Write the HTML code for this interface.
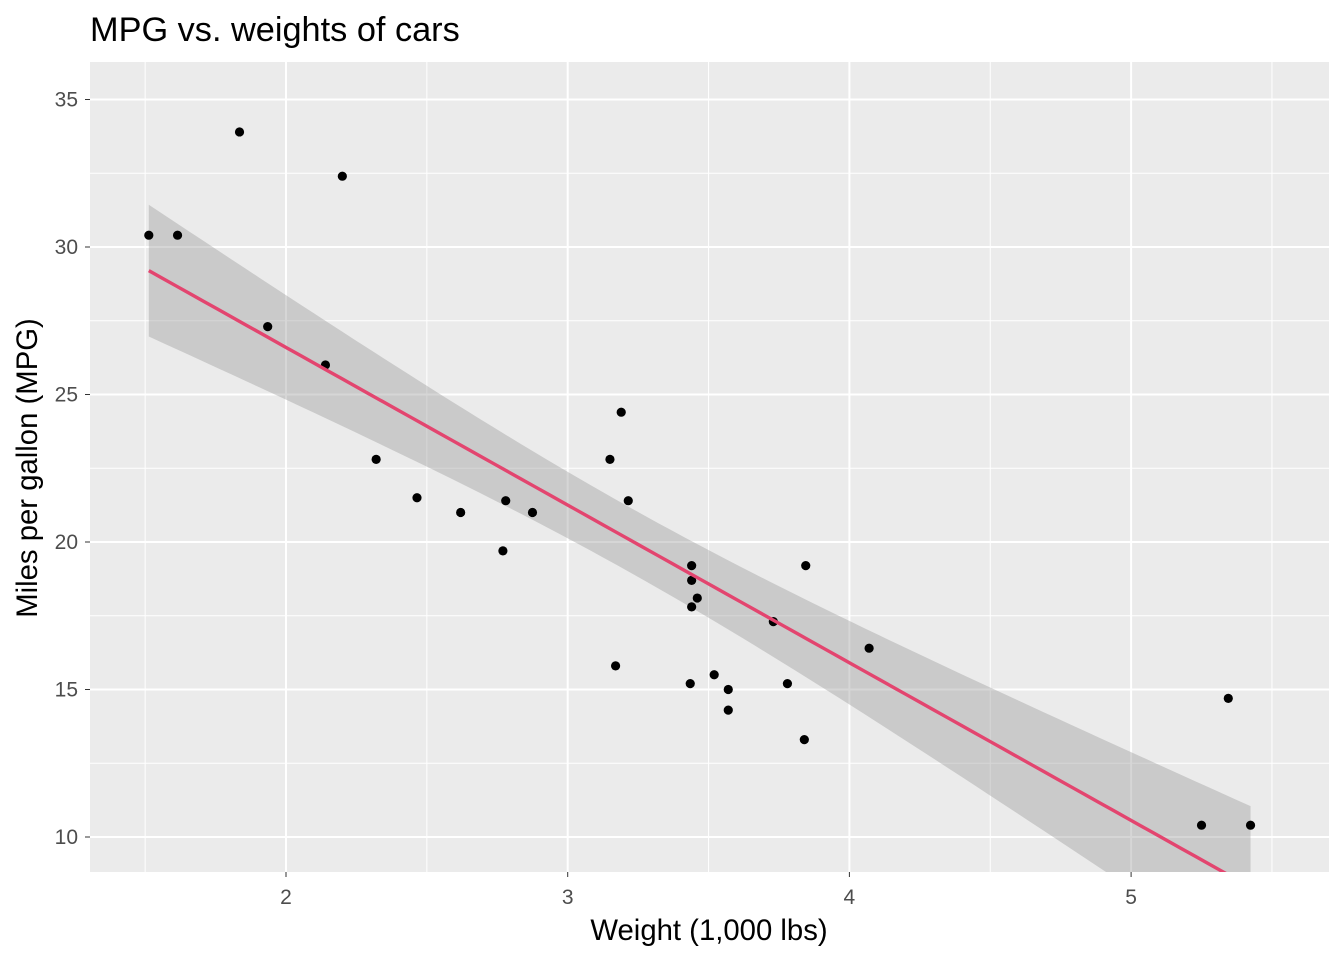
<!DOCTYPE html>
<html><head><meta charset="utf-8"><style>body{margin:0;background:#fff}svg{display:block;font-family:"Liberation Sans",Arial,sans-serif}</style></head>
<body>
<svg id="chart" width="1344" height="960">
<defs><clipPath id="pc"><rect x="90" y="62" width="1239" height="810"/></clipPath></defs>
<text x="90" y="41" font-size="34.3" fill="#000">MPG vs. weights of cars</text>
<rect x="90" y="62" width="1239" height="810" fill="#ebebeb"/>
<g id="grid"></g><g id="band" clip-path="url(#pc)"></g><g id="pts"></g><g id="line" clip-path="url(#pc)"></g><g id="axes"></g>
<text x="709" y="940" font-size="29.3" text-anchor="middle">Weight (1,000 lbs)</text>
<text transform="translate(37,468) rotate(-90)" font-size="29.3" text-anchor="middle">Miles per gallon (MPG)</text>
</svg>
<script>
const wt=[2.620,2.875,2.320,3.215,3.440,3.460,3.570,3.190,3.150,3.440,3.440,4.070,3.730,3.780,5.250,5.424,5.345,2.200,1.615,1.835,2.465,3.520,3.435,3.840,3.845,1.935,2.140,1.513,3.170,2.770,3.570,2.780];
const mpg=[21.0,21.0,22.8,21.4,18.7,18.1,14.3,24.4,22.8,19.2,17.8,16.4,17.3,15.2,10.4,10.4,14.7,32.4,30.4,33.9,21.5,15.5,15.2,13.3,19.2,27.3,26.0,30.4,15.8,19.7,15.0,21.4];
const xTicks=[2,3,4,5];
const yTicks=[10,15,20,25,30,35];
const NS='http://www.w3.org/2000/svg';
const X=v=>286+(v-2)*281.7, Y=v=>837-(v-10)*29.5;
function mk(p,t,a){const e=document.createElementNS(NS,t);for(const k in a)e.setAttribute(k,a[k]);document.getElementById(p).appendChild(e);return e;}
for(let v=1.5;v<=5.5;v+=0.5){const l=mk('grid','line',{x1:X(v),x2:X(v),y1:62,y2:872,stroke:'#fff','stroke-width':xTicks.includes(v)?2:1});

}
for(let v=10;v<=35;v+=2.5){const l=mk('grid','line',{y1:Y(v),y2:Y(v),x1:90,x2:1329,stroke:'#fff','stroke-width':yTicks.includes(v)?2:1});

}
xTicks.forEach(v=>{mk('axes','line',{x1:X(v),x2:X(v),y1:872,y2:877,stroke:'#333','stroke-width':1});
const t=mk('axes','text',{x:X(v),y:904,'font-size':21,fill:'#4d4d4d','text-anchor':'middle'});t.textContent=v;

});
yTicks.forEach(v=>{mk('axes','line',{x1:85,x2:90,y1:Y(v),y2:Y(v),stroke:'#333','stroke-width':1});
const t=mk('axes','text',{x:78,y:Y(v)+7,'font-size':21,fill:'#4d4d4d','text-anchor':'end'});t.textContent=v;

});
const n=wt.length,mx=wt.reduce((a,b)=>a+b)/n,my=mpg.reduce((a,b)=>a+b)/n;
let sxx=0,sxy=0;for(let i=0;i<n;i++){sxx+=(wt[i]-mx)**2;sxy+=(wt[i]-mx)*(mpg[i]-my);}
const b=sxy/sxx,a=my-b*mx;let sse=0;for(let i=0;i<n;i++)sse+=(mpg[i]-a-b*wt[i])**2;
const s=Math.sqrt(sse/(n-2)),tq=2.042;
const x0=Math.min(...wt),x1=Math.max(...wt);const up=[],lo=[],ln=[];
for(let k=0;k<=80;k++){const x=x0+(x1-x0)*k/80,f=a+b*x,se=s*Math.sqrt(1/n+(x-mx)**2/sxx);
up.push(X(x)+','+Y(f+tq*se));lo.unshift(X(x)+','+Y(f-tq*se));ln.push(X(x)+','+Y(f));}
const band=mk('band','polygon',{points:up.concat(lo).join(' '),fill:'#999','fill-opacity':0.4});


wt.forEach((w,i)=>{const c=mk('pts','circle',{cx:X(w),cy:Y(mpg[i]),r:4.6,fill:'#000'});

});
const fl=mk('line','polyline',{points:ln.join(' '),fill:'none',stroke:'#e3456f','stroke-width':3.4});


</script>
</body></html>
